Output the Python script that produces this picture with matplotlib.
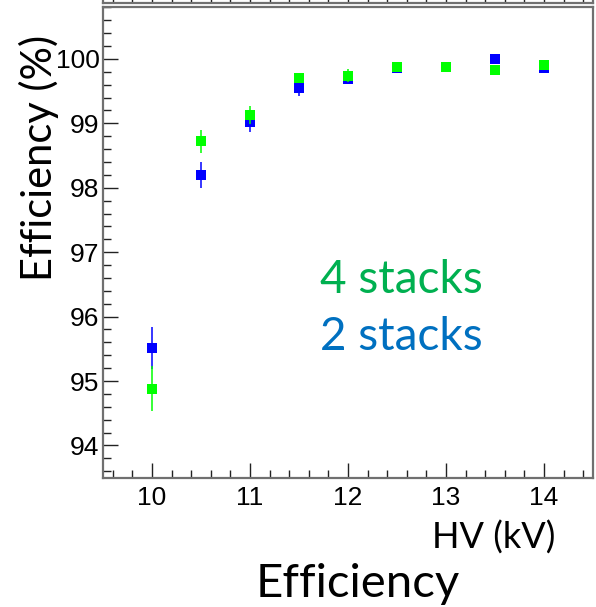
import numpy as np
import matplotlib
matplotlib.use("Agg")
import matplotlib.pyplot as plt
from matplotlib.ticker import MultipleLocator

# HV scan points (kV)
hv = [10, 10.5, 11, 11.5, 12, 12.5, 13, 13.5, 14]

# efficiency (%) for the 2-stack and 4-stack configurations
eff_2 = [95.51, 98.20, 99.02, 99.54, 99.68, 99.86, 99.88, 100.0, 99.86]
err_2 = [0.33, 0.20, 0.15, 0.11, 0.07, 0.05, 0.04, 0.03, 0.05]
eff_4 = [94.88, 98.72, 99.13, 99.70, 99.74, 99.88, 99.88, 99.82, 99.91]
err_4 = [0.35, 0.18, 0.14, 0.08, 0.10, 0.04, 0.04, 0.05, 0.04]

W, H = 596, 607
FRAME = "#707070"
TEXT_FONT = ["Lato", "DejaVu Sans"]

plt.rcParams["font.family"] = ["Liberation Sans", "DejaVu Sans"]


def fx(px):
    return px / W


def fy(py):
    return 1 - py / H


def main():
    fig = plt.figure(figsize=(W / 100, H / 100), dpi=100)

    # main panel
    ax = fig.add_axes([fx(103), fy(477.7), fx(593) - fx(103), fy(7.3) - fy(477.7)])
    ax.errorbar(hv, eff_2, yerr=err_2, fmt="s", color="#0000ff", ms=7,
                mew=0, elinewidth=1.1, capsize=2.8, capthick=1.2, zorder=3)
    ax.errorbar(hv, eff_4, yerr=err_4, fmt="s", color="#00ff00", ms=7,
                mew=0, elinewidth=1.1, capsize=2.8, capthick=1.2, zorder=4)

    ax.set_xlim(9.5, 14.5)
    ax.set_ylim(93.5, 100.8)
    ax.xaxis.set_major_locator(MultipleLocator(1))
    ax.xaxis.set_minor_locator(MultipleLocator(0.2))
    ax.yaxis.set_major_locator(MultipleLocator(1))
    ax.yaxis.set_minor_locator(MultipleLocator(0.2))
    ax.tick_params(which="both", direction="in", top=False, right=False,
                   color="#222222", width=1, labelsize=19)
    ax.tick_params(which="major", length=11)
    ax.tick_params(which="minor", length=6)
    ax.tick_params(axis="x", which="major", pad=6)
    ax.tick_params(axis="y", which="major", pad=2.5)
    for sp in ax.spines.values():
        sp.set_color(FRAME)
        sp.set_linewidth(1.6)

    # bottom edge of the panel above (cut off in the original)
    top = fig.add_axes([fx(103), fy(3.3), fx(593) - fx(103), 0.05])
    top.set_xlim(9.5, 14.5)
    top.xaxis.set_major_locator(MultipleLocator(1))
    top.xaxis.set_minor_locator(MultipleLocator(0.2))
    top.set_yticks([])
    top.tick_params(which="both", direction="in", length=8, width=1,
                    color="#222222", labelbottom=False)
    top.spines["top"].set_visible(False)
    for sp in top.spines.values():
        sp.set_color(FRAME)
        sp.set_linewidth(1.6)

    # labels and annotations
    fig.text(fx(39), fy(158), "Efficiency (%)", rotation=90, ha="center",
             va="center", fontsize=30, family=TEXT_FONT)
    fig.text(fx(555), fy(549), "HV (kV)", ha="right", va="baseline",
             fontsize=26, family=TEXT_FONT)
    fig.text(fx(358), fy(597), "Efficiency", ha="center", va="baseline",
             fontsize=34, family=TEXT_FONT)
    fig.text(fx(320), fy(293), "4 stacks", ha="left", va="baseline",
             fontsize=33, color="#00b050", family=TEXT_FONT)
    fig.text(fx(320), fy(350), "2 stacks", ha="left", va="baseline",
             fontsize=33, color="#0070c0", family=TEXT_FONT)

    fig.savefig("out.png", dpi=100)


if __name__ == "__main__":
    main()
